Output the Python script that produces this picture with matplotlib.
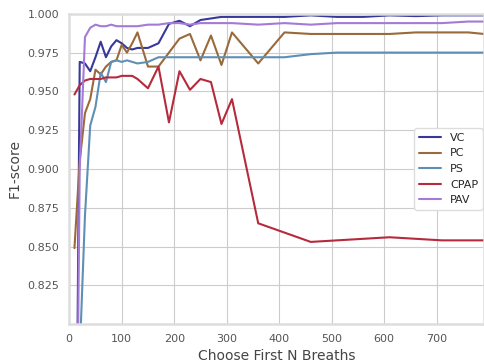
import numpy as np
import matplotlib
matplotlib.use("Agg")
import matplotlib.pyplot as plt
import seaborn as sns

# First N breaths used
n_breaths = [10, 20, 30, 40, 50, 60, 70, 80, 90, 100, 110, 120, 130, 150, 170, 190,
             210, 230, 250, 270, 290, 310, 360, 410, 460, 510, 560, 610, 660, 710, 760, 790]

# F1-scores per ventilation mode
vc = [0.55, 0.969, 0.968, 0.963, 0.972, 0.982, 0.972, 0.979, 0.983, 0.981, 0.978, 0.977,
      0.978, 0.978, 0.981, 0.9935, 0.9955, 0.992, 0.996, 0.997, 0.998, 0.998, 0.998, 0.998,
      0.999, 0.998, 0.998, 0.999, 0.9985, 0.999, 0.999, 0.999]
pc = [0.849, 0.905, 0.936, 0.945, 0.964, 0.961, 0.966, 0.969, 0.970, 0.980, 0.975, 0.981,
      0.988, 0.966, 0.966, 0.975, 0.984, 0.987, 0.970, 0.986, 0.967, 0.988, 0.968, 0.988,
      0.987, 0.987, 0.987, 0.987, 0.988, 0.988, 0.988, 0.987]
ps = [0.50, 0.78, 0.87, 0.928, 0.940, 0.962, 0.956, 0.969, 0.970, 0.969, 0.970, 0.969,
      0.968, 0.969, 0.972, 0.972, 0.972, 0.972, 0.972, 0.972, 0.972, 0.972, 0.972, 0.972,
      0.974, 0.975, 0.975, 0.975, 0.975, 0.975, 0.975, 0.975]
cpap = [0.948, 0.954, 0.957, 0.958, 0.958, 0.958, 0.959, 0.959, 0.959, 0.960, 0.960, 0.960,
        0.958, 0.952, 0.966, 0.930, 0.963, 0.951, 0.958, 0.956, 0.929, 0.945, 0.865, 0.859,
        0.853, 0.854, 0.855, 0.856, 0.855, 0.854, 0.854, 0.854]
pav = [0.55, 0.90, 0.985, 0.991, 0.993, 0.992, 0.992, 0.993, 0.992, 0.992, 0.992, 0.992,
       0.992, 0.993, 0.993, 0.994, 0.994, 0.993, 0.994, 0.994, 0.994, 0.994, 0.993, 0.994,
       0.993, 0.994, 0.994, 0.994, 0.994, 0.994, 0.995, 0.995]

labels = ["VC", "PC", "PS", "CPAP", "PAV"]
colors = ["#38389a", "#9a6a3a", "#5f8fb5", "#b52a3c", "#a57ad6"]

sns.set_style("whitegrid")
plt.rcParams['font.family'] = ['DejaVu Sans']

fig = plt.figure(figsize=(4.84, 3.63), dpi=100)
ax = fig.add_axes([0.143, 0.107, 0.857, 0.855])

for series, lab, col in zip([vc, pc, ps, cpap, pav], labels, colors):
    ax.plot(n_breaths, series, color=col, linewidth=1.5, label=lab)

ax.set_xlim(0, 790)
ax.set_ylim(0.80, 1.0)
ax.set_xticks([0, 100, 200, 300, 400, 500, 600, 700])
ax.set_yticks([0.825, 0.850, 0.875, 0.900, 0.925, 0.950, 0.975, 1.000])
ax.tick_params(labelsize=8, colors="#555555")
ax.set_xlabel("Choose First N Breaths", fontsize=10, color="#444444")
ax.set_ylabel("F1-score", fontsize=10, color="#444444")
for s in ax.spines.values():
    s.set_color("#dddddd")
    s.set_linewidth(1.8)

ax.legend(loc="center right", bbox_to_anchor=(1.01, 0.5), fontsize=8, framealpha=1,
          edgecolor="#dddddd", handlelength=2.0)

fig.savefig("out.png", dpi=100)
